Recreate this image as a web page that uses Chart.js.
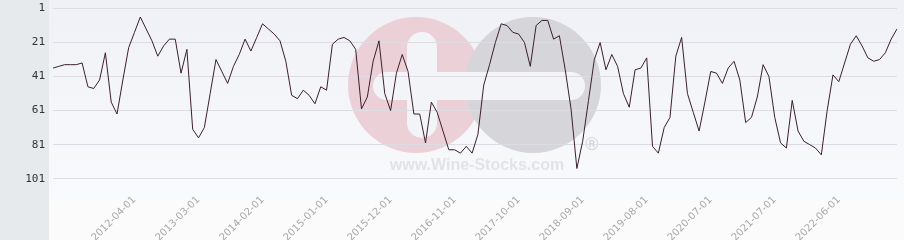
<!DOCTYPE html>
<html>
<head>
<meta charset="utf-8">
<script src="https://cdn.jsdelivr.net/npm/chart.js@4"></script>
<style>
body{margin:0;background:#fff}
canvas{display:block}
</style>
</head>
<body>
<canvas id="myChart" width="904" height="240"></canvas>
<script>
// month of each point (one month missing in 2021)
var months = [
  '2011-02-01','2011-03-01','2011-04-01','2011-05-01','2011-06-01','2011-07-01','2011-08-01','2011-09-01','2011-10-01','2011-11-01','2011-12-01',
  '2012-01-01','2012-02-01','2012-03-01','2012-04-01','2012-05-01','2012-06-01','2012-07-01','2012-08-01','2012-09-01','2012-10-01','2012-11-01','2012-12-01',
  '2013-01-01','2013-02-01','2013-03-01','2013-04-01','2013-05-01','2013-06-01','2013-07-01','2013-08-01','2013-09-01','2013-10-01','2013-11-01','2013-12-01',
  '2014-01-01','2014-02-01','2014-03-01','2014-04-01','2014-05-01','2014-06-01','2014-07-01','2014-08-01','2014-09-01','2014-10-01','2014-11-01','2014-12-01',
  '2015-01-01','2015-02-01','2015-03-01','2015-04-01','2015-05-01','2015-06-01','2015-07-01','2015-08-01','2015-09-01','2015-10-01','2015-11-01','2015-12-01',
  '2016-01-01','2016-02-01','2016-03-01','2016-04-01','2016-05-01','2016-06-01','2016-07-01','2016-08-01','2016-09-01','2016-10-01','2016-11-01','2016-12-01',
  '2017-01-01','2017-02-01','2017-03-01','2017-04-01','2017-05-01','2017-06-01','2017-07-01','2017-08-01','2017-09-01','2017-10-01','2017-11-01','2017-12-01',
  '2018-01-01','2018-02-01','2018-03-01','2018-04-01','2018-05-01','2018-06-01','2018-07-01','2018-08-01','2018-09-01','2018-10-01','2018-11-01','2018-12-01',
  '2019-01-01','2019-02-01','2019-03-01','2019-04-01','2019-05-01','2019-06-01','2019-07-01','2019-08-01','2019-09-01','2019-10-01','2019-11-01','2019-12-01',
  '2020-01-01','2020-02-01','2020-03-01','2020-04-01','2020-05-01','2020-06-01','2020-07-01','2020-08-01','2020-09-01','2020-10-01','2020-11-01','2020-12-01',
  '2021-02-01','2021-03-01','2021-04-01','2021-05-01','2021-06-01','2021-07-01','2021-08-01','2021-09-01','2021-10-01','2021-11-01','2021-12-01',
  '2022-01-01','2022-02-01','2022-03-01','2022-04-01','2022-05-01','2022-06-01','2022-07-01','2022-08-01','2022-09-01','2022-10-01','2022-11-01','2022-12-01',
  '2023-01-01','2023-02-01','2023-03-01','2023-04-01'
]

// rank
var ranks = [
  36,35,34,34,34,33,47,48,43,27,56,63,43,24,15,6,13,20,29,23,19,19,39,25,72,77,71,51,31,38,
  45,35,28,19,26,18,10,13,16,20,32,52,54,49,52,57,47,49,22,19,18,20,25,60,53,32,20,51,61,39,
  28,38,63,63,80,56,62,73,84,84,86,82,86,75,46,34,21,10,11,15,16,21,35,11,8,8,19,17,37,60,
  95,79,55,31,21,37,28,35,51,59,37,36,30,82,86,71,65,29,18,51,62,73,56,38,39,45,36,32,43,68,
  65,53,34,41,65,80,83,55,73,79,81,83,87,61,40,44,33,22,17,23,30,32,31,27,19,13
]

var xTickLabels = ['2012-04-01','2013-03-01','2014-02-01','2015-01-01','2015-12-01','2016-11-01',
  '2017-10-01','2018-09-01','2019-08-01','2020-07-01','2021-07-01','2022-06-01']
var yTicks = [1, 21, 41, 61, 81, 101]

//background panels + logo watermark
var backdrop = {
  id: 'backdrop',
  beforeDraw: function(chart){
    var c = chart.ctx
    c.save()
    var g = c.createLinearGradient(0, 0, 0, 200)
    g.addColorStop(0, '#eff1f6')
    g.addColorStop(1, '#f9fafc')
    c.fillStyle = g
    c.fillRect(49, 0, 855, 200)
    c.fillStyle = '#fbfbfc'
    c.fillRect(49, 200, 855, 40)
    c.fillStyle = '#e7eaed'
    c.fillRect(0, 0, 49, 240)

    c.fillStyle = '#ebd0d8'
    c.beginPath(); c.arc(416, 85, 68, 0, Math.PI * 2); c.fill()
    c.fillStyle = '#d6d6da'
    c.beginPath(); c.arc(533, 85, 68, 0, Math.PI * 2); c.fill()
    c.fillStyle = '#f3f4f8'
    c.beginPath(); c.roundRect(373, 72, 212, 28, 14); c.fill()
    c.beginPath(); c.roundRect(407, 32, 30, 106, 15); c.fill()

    c.fillStyle = '#e3e3e7'
    c.font = 'bold 16px "Liberation Sans"'
    c.textAlign = 'center'
    c.textBaseline = 'middle'
    c.fillText('www.Wine-Stocks.com', 477, 166)
    c.fillStyle = '#d8d8dc'
    c.font = 'bold 18px "Liberation Sans"'
    c.fillText('®', 592, 145)
    c.restore()
  }
}

var ctx = document.getElementById('myChart').getContext('2d')
var myChart = new Chart(ctx, {
  type: 'line',
  data: {
    labels: months,
    datasets: [{
      data: ranks,
      borderColor: '#3b1f2b',
      borderWidth: 1,
      pointRadius: 0,
      tension: 0,
      fill: false
    }]
  },
  options: {
    responsive: false,
    animation: false,
    layout: { autoPadding: false, padding: { top: 0, right: 7, bottom: 0, left: 0 } },
    plugins: { legend: { display: false }, tooltip: { enabled: false } },
    scales: {
      x: {
        offset: false,
        grid: { display: false, drawTicks: false },
        border: { display: false },
        afterFit: function(s){
          s.height = 46
          s.paddingLeft = 0
          s.paddingRight = 0
        },
        ticks: {
          autoSkip: false,
          minRotation: 45,
          maxRotation: 45,
          padding: 0,
          color: '#a8a8a8',
          font: { family: 'DejaVu Sans', size: 10 },
          callback: function(v){
            var l = this.getLabelForValue(v)
            return xTickLabels.indexOf(l) >= 0 ? l : null
          }
        }
      },
      y: {
        reverse: true,
        min: -4,
        max: 110,
        grid: { color: '#dcdce2', drawTicks: false },
        border: { display: false },
        afterBuildTicks: function(s){ s.ticks = yTicks.map(function(v){ return { value: v } }) },
        afterFit: function(s){
          s.width = 53
          s.paddingTop = 0
          s.paddingBottom = 0
        },
        ticks: {
          padding: 8,
          color: '#333',
          font: { family: 'DejaVu Sans Mono', size: 11 }
        }
      }
    }
  },
  plugins: [backdrop]
})
</script>
</body>
</html>
